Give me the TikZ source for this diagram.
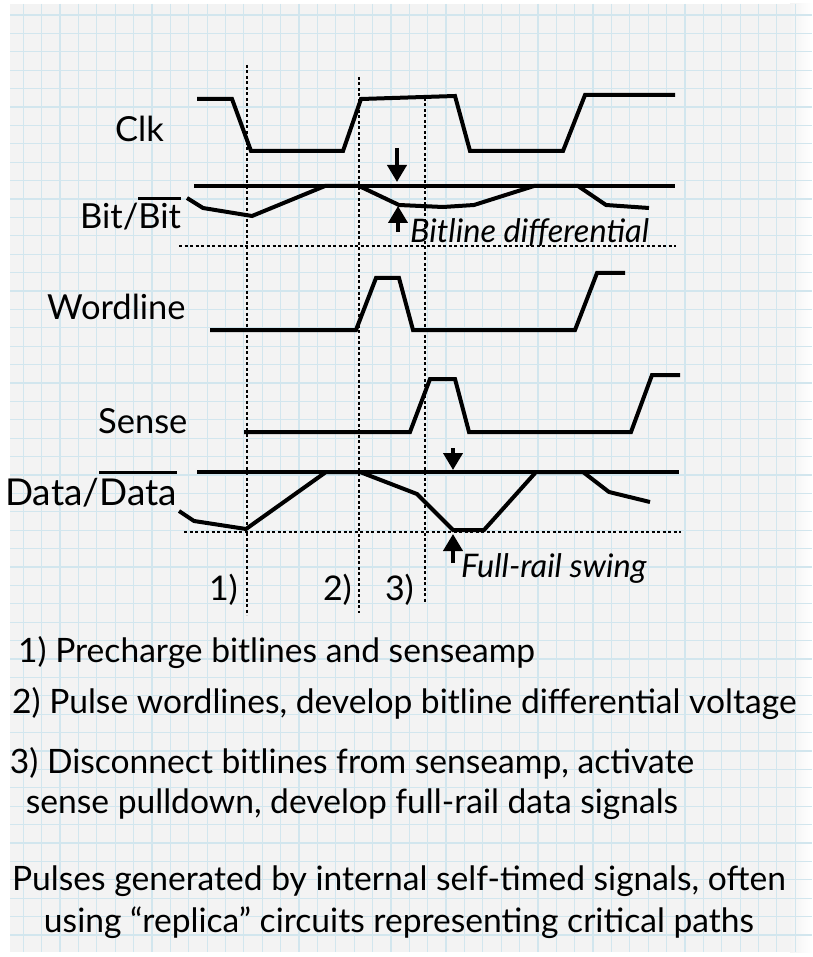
\documentclass[tikz,border=0pt]{standalone}
\usepackage{fontspec}
\setmainfont{Lato}
\usetikzlibrary{arrows.meta}
\definecolor{paper}{HTML}{F3F3F3}
\definecolor{gridblue}{HTML}{D2E6EE}
% signal name with a bar over it
\newcommand{\olbar}[1]{\vbox{\hrule height 3pt\kern 4pt\hbox{#1}}}

\begin{document}
\begin{tikzpicture}[x=1pt, y=-1pt,
  wave/.style={line width=4pt, line join=miter},
  guide/.style={line width=1.5pt, dash pattern=on 3pt off 2.5pt},
  marker/.style={line width=4pt, -{Triangle[width=19pt,length=17pt]}},
  gridline/.style={gridblue, line width=1.2pt},
  signame/.style={anchor=base west, inner sep=0pt, font=\fontsize{34.5}{40}\selectfont},
  stepnum/.style={anchor=base east, inner sep=0pt, font=\fontsize{34}{40}\selectfont},
  callout/.style={anchor=base west, inner sep=0pt, font=\fontsize{32.5}{38}\selectfont\itshape},
  bodytext/.style={anchor=base, inner sep=0pt, font=\fontsize{33.6}{40}\selectfont},
]
\useasboundingbox (0,0) rectangle (812,957);
\fill[white] (0,0) rectangle (812,957);

% graph paper
\fill[paper] (10,4) rectangle (812,952);
\shade[left color=paper, right color=white] (790,4) rectangle (812,952);
\begin{scope}
  \clip (10,4) rectangle (812,952);
  \foreach \gx in {0,...,42}
    \draw[gridline] ({23.3+18.38*\gx},4) -- ({23.3+18.38*\gx},952);
  \foreach \gy in {0,...,51}
    \draw[gridline] (10,{15+18.4*\gy}) -- (812,{15+18.4*\gy});
\end{scope}

% phase guides
\draw[guide] (247,65) -- (247,615);
\draw[guide] (359,77) -- (359,613);
\draw[guide] (425,98) -- (425,603);
\draw[guide] (179,246) -- (676,246);
\draw[guide] (184,532) -- (681,532);

% signal names
\node[signame] (clk) at (115,142) {Clk};
\node[signame] (bit) at (80,229) {Bit/\olbar{Bit}};
\node[signame] (wl) at (47,319) {Wordline};
\node[signame] (sense) at (98,433) {Sense};
\node[signame, font=\fontsize{37}{40}\selectfont] (data) at (5,505) {Data/\olbar{Data}};

% waveforms
\draw[wave] (197,99) -- (232,99) -- (251,151) -- (343,151) -- (361,99) -- (455,96)
  -- (470,151) -- (563,151) -- (585,95) -- (675,95);
\draw[wave] (194,186) -- (675,186);
\draw[wave] (187,198) -- (203,208) -- (252,216) -- (325,186) -- (359,186) -- (399,205)
  -- (443,207) -- (474,205) -- (534,186) -- (578,186) -- (606,205) -- (649,208);
\draw[wave] (210,330) -- (356,330) -- (376,278) -- (399,278) -- (413,330) -- (575,330)
  -- (597,273) -- (625,273);
\draw[wave] (244,432) -- (410,432) -- (430,379) -- (455,379) -- (469,432) -- (631,432)
  -- (652,375) -- (680,375);
\draw[wave] (197,472) -- (679,472);
\draw[wave] (179,511) -- (194,521) -- (246,529) -- (326,472) -- (360,472) -- (417,494)
  -- (453,530) -- (484,530) -- (536,472) -- (583,472) -- (609,492) -- (650,502);

% swing markers
\coordinate (bdtop) at (397,148);
\coordinate (bdtip) at (397,182);
\coordinate (butip) at (398,206);
\coordinate (bubot) at (398,232);
\coordinate (ddtop) at (453,448);
\coordinate (ddtip) at (453,470);
\coordinate (dutip) at (453,534);
\coordinate (dubot) at (453,563);
\draw[marker] (bdtop) -- (bdtip);
\draw[marker] (bubot) -- (butip);
\draw[marker] (ddtop) -- (ddtip);
\draw[marker] (dubot) -- (dutip);
\node[callout] (bitdiff) at (410,243) {Bitline differential};
\node[callout] (swing) at (461,577) {Full-rail swing};

% phase numbers
\node[stepnum] (s1) at (238,600) {1)};
\node[stepnum] (s2) at (352,600) {2)};
\node[stepnum] (s3) at (414,600) {3)};

% notes
\node[bodytext, anchor=base west] (n1) at (18,662) {1) Precharge bitlines and senseamp};
\node[bodytext, anchor=base west] (n2) at (12,713) {2) Pulse wordlines, develop bitline differential voltage};
\node[bodytext] (n3a) at (352,773) {3) Disconnect bitlines from senseamp, activate};
\node[bodytext] (n3b) at (352,813) {sense pulldown, develop full-rail data signals};
\node[bodytext] (n4a) at (399,890) {Pulses generated by internal self-timed signals, often};
\node[bodytext] (n4b) at (399,932) {using “replica” circuits representing critical paths};
\end{tikzpicture}
\end{document}
